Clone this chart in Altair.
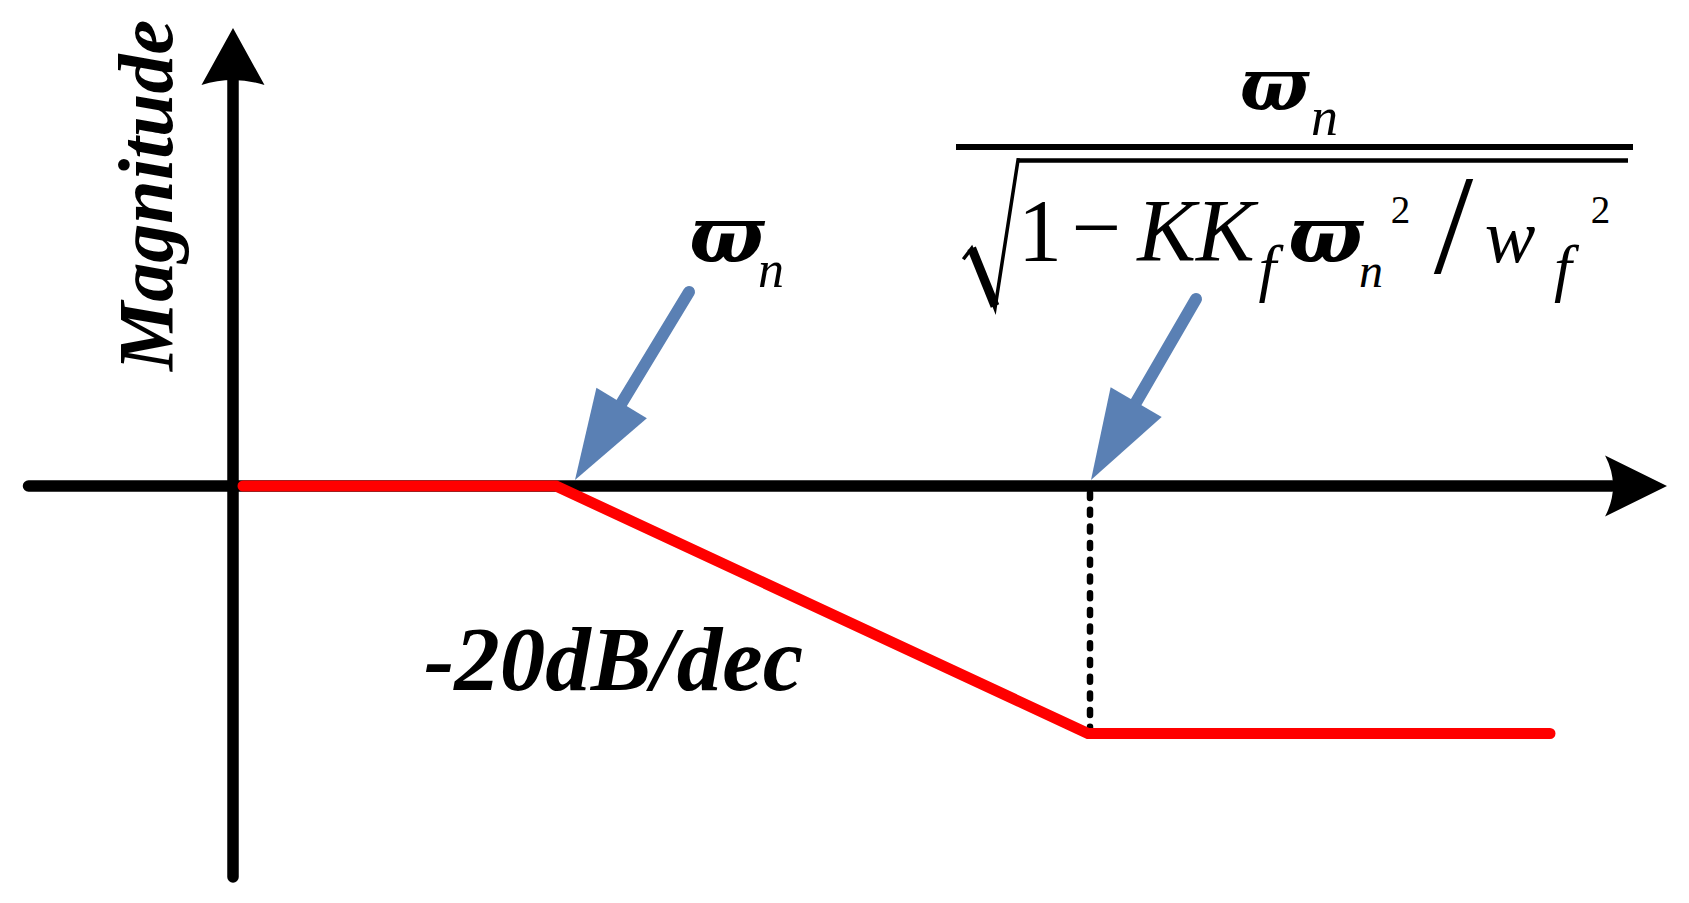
import math
import altair as alt
import pandas as pd

# ---- diagram coordinate system (one unit = one pixel of the reference page) ----
X0, X1 = 8, 1673
Y0, Y1 = 8, 888
W, H = X1 - X0, Y1 - Y0

# ---- axes (black) ----
axis_id = ["h", "h", "v", "v"]
axis_x = [28.5, 1612, 233, 233]
axis_y = [486, 486, 877, 80]

# axis arrow heads (tip positions)
head_h_x, head_h_y = [1667], [486]
head_v_x, head_v_y = [233], [28]

# ---- Bode magnitude asymptote (red) ----
bode_x = [243, 556, 1088, 1550]
bode_y = [486, 486, 733.5, 733.5]

# ---- dashed drop line at the second corner ----
drop_x = [1090, 1090]
drop_y = [493, 728]

# ---- blue pointer arrows ----
ptr_tail_x = [689, 1196]
ptr_tail_y = [292, 299]
ptr_tip_x = [575, 1091]
ptr_tip_y = [480, 480]
PTR_HEAD_LEN = 90

# ---- formula rules ----
frac_x = [956, 1633]
frac_y = [147, 147]
over_x = [1017, 1628]
over_y = [160.5, 160.5]
rad_thin_x = [963.3, 971.7, 995, 1018.3]
rad_thin_y = [259.3, 248.3, 308.3, 158.3]
rad_bold_x = [971.7, 995]
rad_bold_y = [248.3, 306]

# ---- texts ----
bi_text = ["Magnitude", "-20dB/dec"]
bi_x = [172, 613.5]
bi_y = [195.5, 690]
bi_size = [78, 91]
bi_angle = [270, 0]

varpi_text = ["\u03d6", "\u03d6", "\u03d6"]
varpi_x = [726.5, 1274, 1325.5]
varpi_y = [262, 110, 262]
varpi_size = [78, 72, 78]

it_text = ["n", "n", "n", "KK", "f", "f", "w"]
it_x = [771, 1324.5, 1371, 1196, 1267.5, 1563, 1510]
it_y = [287, 135, 287, 260, 289, 289, 262]
it_size = [52, 54, 48, 88, 64, 64, 76]

rm_text = ["1", "\u2212", "/", "2", "2"]
rm_x = [1040, 1096.5, 1453.5, 1400.5, 1600.5]
rm_y = [260, 257, 273, 223, 223]
rm_size = [88, 88, 142, 39, 39]

BLUE = "#5A80B4"

xs = alt.Scale(domain=[X0, X1], nice=False, zero=False)
ys = alt.Scale(domain=[Y0, Y1], nice=False, zero=False, reverse=True)


def X(f="x"):
    return alt.X(f + ":Q", scale=xs, axis=None)


def Y(f="y"):
    return alt.Y(f + ":Q", scale=ys, axis=None)


def poly(ids, x, y):
    return pd.DataFrame({"id": ids, "x": x, "y": y, "o": list(range(len(x)))})


# axes
axes_df = poly(axis_id, axis_x, axis_y)
axes = alt.Chart(axes_df).mark_line(color="black", strokeWidth=11.5, strokeCap="round").encode(
    x=X(), y=Y(), detail="id:N", order="o:Q")

head_h = alt.Chart(pd.DataFrame({"x": head_h_x, "y": head_h_y})).mark_point(
    shape="M0,0 L-2.03,-1 Q-1.51,0 -2.03,1 Z", size=3721, filled=True, opacity=1,
    color="black", strokeWidth=0).encode(x=X(), y=Y())
head_v = alt.Chart(pd.DataFrame({"x": head_v_x, "y": head_v_y})).mark_point(
    shape="M0,0 L1,1.81 Q0,1.49 -1,1.81 Z", size=3969, filled=True, opacity=1,
    color="black", strokeWidth=0).encode(x=X(), y=Y())

# dashed line
drop = alt.Chart(poly(["d"] * 2, drop_x, drop_y)).mark_line(
    color="black", strokeWidth=6.5, strokeDash=[5, 11.7], strokeCap="round").encode(
    x=X(), y=Y(), order="o:Q")

# red asymptote
bode = alt.Chart(poly(["b"] * len(bode_x), bode_x, bode_y)).mark_line(
    color="#FF0000", strokeWidth=11, strokeCap="round", strokeJoin="miter").encode(
    x=X(), y=Y(), order="o:Q")

# blue pointers
shaft_rows, head_rows = [], []
for i in range(len(ptr_tail_x)):
    dx = ptr_tip_x[i] - ptr_tail_x[i]
    dy = ptr_tip_y[i] - ptr_tail_y[i]
    L = math.hypot(dx, dy)
    ux, uy = dx / L, dy / L
    end_x = ptr_tip_x[i] - ux * (PTR_HEAD_LEN - 15)
    end_y = ptr_tip_y[i] - uy * (PTR_HEAD_LEN - 15)
    shaft_rows.append({"id": i, "x": ptr_tail_x[i], "y": ptr_tail_y[i], "o": 0})
    shaft_rows.append({"id": i, "x": end_x, "y": end_y, "o": 1})
    ang = math.degrees(math.atan2(dx, -dy)) % 360
    head_rows.append({"x": ptr_tip_x[i], "y": ptr_tip_y[i], "a": ang})

shafts = alt.Chart(pd.DataFrame(shaft_rows)).mark_line(
    color=BLUE, strokeWidth=12, strokeCap="round").encode(
    x=X(), y=Y(), detail="id:N", order="o:Q")
heads = alt.Chart(pd.DataFrame(head_rows)).mark_point(
    shape="M0,0 L1,3.05 L-1,3.05 Z", size=3481, filled=True, opacity=1,
    color=BLUE, strokeWidth=0).encode(x=X(), y=Y(), angle=alt.Angle("a:Q", scale=None))

# formula rules
frac = alt.Chart(poly(["f"] * 2, frac_x, frac_y)).mark_line(color="black", strokeWidth=6).encode(
    x=X(), y=Y(), order="o:Q")
over = alt.Chart(poly(["o"] * 2, over_x, over_y)).mark_line(color="black", strokeWidth=4.5).encode(
    x=X(), y=Y(), order="o:Q")
rad_thin = alt.Chart(poly(["r"] * 4, rad_thin_x, rad_thin_y)).mark_line(
    color="black", strokeWidth=3.5, strokeJoin="miter").encode(x=X(), y=Y(), order="o:Q")
rad_bold = alt.Chart(poly(["r"] * 2, rad_bold_x, rad_bold_y)).mark_line(
    color="black", strokeWidth=9).encode(x=X(), y=Y(), order="o:Q")


def texts(t, x, y, s, font, style, weight, a=None):
    layers = []
    for i in range(len(t)):
        df = pd.DataFrame({"t": [t[i]], "x": [x[i]], "y": [y[i]]})
        layers.append(alt.Chart(df).mark_text(
            font=font, fontStyle=style, fontWeight=weight, align="center",
            baseline="alphabetic", color="black", fontSize=s[i],
            angle=(a[i] if a else 0)).encode(x=X(), y=Y(), text="t:N"))
    return layers


text_layers = (
    texts(bi_text, bi_x, bi_y, bi_size, "Liberation Serif", "italic", "bold", bi_angle)
    + texts(varpi_text, varpi_x, varpi_y, varpi_size, "DejaVu Serif", "italic", "bold")
    + texts(it_text, it_x, it_y, it_size, "Liberation Serif", "italic", "normal")
    + texts(rm_text, rm_x, rm_y, rm_size, "Liberation Serif", "normal", "normal")
)

chart = alt.layer(
    axes, head_h, head_v, drop, bode, shafts, heads,
    frac, over, rad_thin, rad_bold,
    *text_layers,
).properties(width=W, height=H, padding=0, autosize="none", background="white"
).configure_view(stroke=None)

chart.save("out.html", embed_options={"renderer": "svg", "actions": False})
